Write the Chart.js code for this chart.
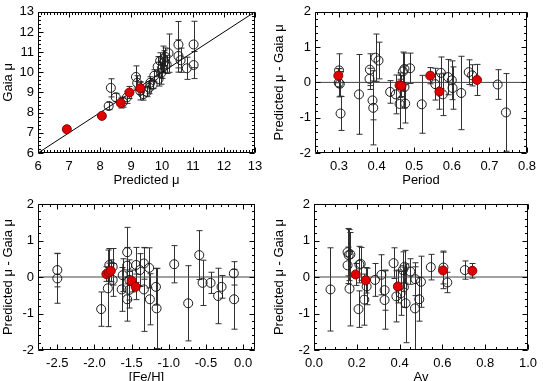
<!DOCTYPE html>
<html><head><meta charset="utf-8">
<script src="https://cdn.jsdelivr.net/npm/chart.js@4"></script>
<style>
html,body{margin:0;padding:0;background:#fff;overflow:hidden;width:543px;height:381px;position:relative}
.p{position:absolute}
</style></head><body>
<div class="p" style="left:0;top:0;width:271px;height:190px"><canvas id="c1"></canvas></div>
<div class="p" style="left:271px;top:0;width:272px;height:190px"><canvas id="c2"></canvas></div>
<div class="p" style="left:0;top:190px;width:271px;height:200px"><canvas id="c3"></canvas></div>
<div class="p" style="left:271px;top:190px;width:272px;height:200px"><canvas id="c4"></canvas></div>
<script>
// ---------- Panel 1: Gaia mu vs Predicted mu ----------
const p1PredOpen = [8.28,8.35,8.51,8.74,8.87,9.16,9.20,9.30,9.40,9.51,9.59,9.62,9.70,9.75,9.86,9.89,9.94,9.97,10.00,10.04,10.07,10.11,10.15,10.21,10.53,10.53,10.60,10.80,11.02,11.02];
const p1GaiaOpen = [8.33,9.23,8.76,8.52,8.76,9.77,9.48,9.08,8.92,9.04,9.24,9.48,9.39,9.83,10.28,9.67,10.57,9.96,10.20,10.65,10.52,10.76,10.39,10.95,11.37,10.81,10.60,10.20,11.38,10.36];
const p1ErrOpen  = [0.18,0.45,0.20,0.25,0.30,0.55,0.35,0.45,0.30,0.25,0.30,0.30,0.20,0.30,0.50,0.35,0.40,0.55,0.50,0.65,0.55,0.45,0.45,0.95,1.15,0.80,0.60,0.55,1.15,0.67];
const p1PredRed = [6.93,8.06,8.67,8.95,9.30];
const p1GaiaRed = [7.18,7.84,8.48,9.00,9.21];
const p1ErrRed  = [0.10,0.12,0.25,0.30,0.30];
const p1Ticks = [6,7,8,9,10,11,12,13];
const p1Line = [6,13];

// ---------- Panel 2: residual vs Period ----------
const p2PerOpen = [0.300,0.299,0.302,0.304,0.353,0.382,0.381,0.389,0.391,0.397,0.405,0.436,0.451,0.461,0.470,0.474,0.474,0.476,0.489,0.520,0.556,0.571,0.576,0.590,0.600,0.602,0.625,0.645,0.654,0.722,0.744];
const p2ResOpen = [0.34,-0.01,-0.04,-0.88,-0.34,0.36,0.10,-0.51,-0.72,0.70,0.62,-0.27,-0.34,-0.61,0.31,0.38,-0.13,-0.60,0.40,-0.62,-0.05,0.27,-0.34,0.15,0.06,-0.16,-0.30,0.29,0.20,-0.06,-0.85];
const p2ErrOpen = [0.47,0.40,0.35,0.48,1.13,0.45,0.30,0.55,1.05,0.67,0.52,0.32,0.55,0.70,0.55,0.45,0.60,0.55,0.43,0.82,0.45,0.45,0.60,0.50,0.55,0.60,1.04,0.35,0.30,0.42,1.10];
const p2PerRed = [0.298,0.461,0.466,0.5425,0.567,0.667];
const p2ResRed = [0.19,-0.08,-0.10,0.19,-0.26,0.07];
const p2ErrRed = [0.20,0.35,0.30,0.23,0.50,0.44];
const p2XTicks = [0.3,0.4,0.5,0.6,0.7,0.8];

// ---------- Panel 3: residual vs [Fe/H] ----------
const p3FehOpen = [-2.50,-2.50,-1.91,-1.82,-1.80,-1.755,-1.755,-1.634,-1.62,-1.56,-1.56,-1.56,-1.53,-1.53,-1.44,-1.389,-1.335,-1.335,-1.264,-1.254,-1.173,-1.164,-0.927,-0.739,-0.59,-0.545,-0.438,-0.336,-0.29,-0.125,-0.121];
const p3ResOpen = [0.19,-0.04,-0.88,-0.31,0.33,0.28,-0.08,-0.34,0.05,0.68,-0.61,0.31,-0.08,-0.35,0.33,0.19,0.37,-0.34,0.25,-0.61,-0.27,-0.86,0.35,-0.72,0.60,-0.16,-0.16,-0.52,-0.27,0.10,-0.61];
const p3ErrOpen = [0.46,0.68,0.47,1.05,0.45,0.50,0.45,0.60,0.45,0.68,0.60,0.50,0.55,0.50,0.48,0.45,0.43,1.15,0.55,0.70,0.50,1.10,0.51,1.03,0.67,0.62,0.29,0.76,0.31,0.32,0.82];
const p3FehRed = [-1.84,-1.81,-1.78,-1.50,-1.446];
const p3ResRed = [0.08,0.13,0.17,-0.11,-0.27];
const p3ErrRed = [0.20,0.25,0.30,0.30,0.35];
const p3XTicks = [-2.5,-2.0,-1.5,-1.0,-0.5,0.0];

// ---------- Panel 4: residual vs Av ----------
const p4AvOpen  = [0.077,0.157,0.162,0.157,0.166,0.170,0.208,0.212,0.218,0.235,0.246,0.285,0.315,0.330,0.330,0.372,0.385,0.405,0.415,0.420,0.423,0.428,0.450,0.472,0.474,0.492,0.500,0.546,0.605,0.623,0.705];
const p4ResOpen = [-0.34,0.68,0.60,0.32,-0.32,0.62,-0.88,0.34,0.36,-0.62,-0.26,-0.08,0.06,-0.36,-0.63,0.38,-0.53,-0.45,0.19,-0.28,0.28,-0.72,0.15,-0.86,-0.06,-0.61,-0.13,0.27,0.26,-0.15,0.19];
const p4ErrOpen = [1.14,0.65,0.70,0.50,1.02,0.60,0.50,0.50,0.45,0.70,0.50,0.45,0.55,0.55,0.80,0.42,0.70,0.60,0.50,0.55,0.45,1.08,0.35,1.14,0.45,0.60,0.70,0.35,0.45,0.28,0.25];
const p4AvRed  = [0.195,0.242,0.392,0.603,0.740];
const p4ResRed = [0.07,-0.09,-0.26,0.18,0.17];
const p4ErrRed = [0.30,0.35,0.45,0.50,0.20];
const p4XTicks = [0.0,0.2,0.4,0.6,0.8,1.0];

const resTicks = [-2,-1,0,1,2];

const FONT = 'Liberation Sans, Arial, Helvetica, sans-serif';

const errPlugin = {
  id: 'errbars',
  beforeDatasetsDraw(chart) {
    const {ctx, chartArea: a, scales: {x, y}} = chart;
    ctx.save();
    ctx.beginPath(); ctx.rect(a.left, a.top, a.right - a.left, a.bottom - a.top); ctx.clip();
    ctx.strokeStyle = '#303030'; ctx.lineWidth = 1;
    chart.data.datasets.forEach(ds => {
      if (!ds.errors) return;
      ds.data.forEach((pt, i) => {
        const e = ds.errors[i];
        const px = Math.round(x.getPixelForValue(pt.x)) + 0.5;
        const y1 = y.getPixelForValue(pt.y + e), y2 = y.getPixelForValue(pt.y - e);
        ctx.beginPath();
        ctx.moveTo(px, y1); ctx.lineTo(px, y2);
        ctx.moveTo(px - 3, y1); ctx.lineTo(px + 3, y1);
        ctx.moveTo(px - 3, y2); ctx.lineTo(px + 3, y2);
        ctx.stroke();
      });
    });
    ctx.restore();
  }
};

const framePlugin = {
  id: 'frame',
  afterDatasetsDraw(chart) {
    const {ctx, chartArea: a, scales: {x, y}} = chart;
    const o = chart.options.plugins.frame;
    ctx.save();
    ctx.strokeStyle = '#000'; ctx.lineWidth = 1;
    ctx.beginPath();
    const L = Math.round(a.left) + 0.5, R = Math.round(a.right) - 0.5, T = Math.round(a.top) + 0.5, B = Math.round(a.bottom) - 0.5;
    ctx.rect(L, T, R - L, B - T);
    const xt = (v, len) => { const px = Math.round(x.getPixelForValue(v)) + 0.5; ctx.moveTo(px, B); ctx.lineTo(px, B - len); ctx.moveTo(px, T); ctx.lineTo(px, T + len); };
    const yt = (v, len) => { const py = Math.round(y.getPixelForValue(v)) + 0.5; ctx.moveTo(L, py); ctx.lineTo(L + len, py); ctx.moveTo(R, py); ctx.lineTo(R - len, py); };
    const minors = (mn, mx, st, f) => { const k0 = Math.ceil(mn / st - 1e-6), k1 = Math.floor(mx / st + 1e-6); for (let k = k0; k <= k1; k++) f(k * st, 2.5); };
    minors(x.min, x.max, o.xMinor, xt);
    minors(y.min, y.max, o.yMinor, yt);
    x.ticks.forEach(t => xt(t.value, 5));
    y.ticks.forEach(t => yt(t.value, 5));
    ctx.stroke();
    ctx.restore();
  }
};

function makeChart(id, c) {
  const datasets = [
    { type: 'scatter', data: c.line, showLine: true, borderColor: c.lineColor, borderWidth: 1, pointRadius: 0, order: 3 },
    { type: 'scatter', data: c.open, errors: c.openErr, pointRadius: 4.5, pointBorderWidth: 1, borderColor: '#1a1a1a', backgroundColor: 'rgba(0,0,0,0)', order: 2 },
    { type: 'scatter', data: c.red, errors: c.redErr, pointRadius: 4.5, pointBorderWidth: 1, borderColor: '#8a0000', backgroundColor: '#e00000', order: 1 }
  ];
  const tickFont = { family: FONT, size: 13 };
  return new Chart(document.getElementById(id), {
    type: 'scatter',
    data: { datasets },
    options: {
      responsive: true, maintainAspectRatio: false, animation: false, events: [],
      layout: { padding: { top: c.padTop, right: c.padRight, left: 0, bottom: 0 } },
      plugins: { legend: { display: false }, tooltip: { enabled: false }, frame: { xMinor: c.xMinor, yMinor: c.yMinor } },
      scales: {
        x: {
          type: 'linear', min: c.xMin, max: c.xMax,
          grid: { display: false, drawTicks: false }, border: { display: false },
          afterBuildTicks: s => { s.ticks = c.xTicks.map(v => ({ value: v })); },
          afterFit: s => { s.height = c.xHeight; },
          ticks: { font: tickFont, color: '#000', padding: 6, maxRotation: 0, autoSkip: false,
                   callback: v => v.toFixed(c.xDec) },
          title: { display: true, text: c.xTitle, font: { family: FONT, size: 13 }, color: '#000', padding: { top: 0, bottom: c.xTitlePad } }
        },
        y: {
          type: 'linear', min: c.yMin, max: c.yMax,
          grid: { display: false, drawTicks: false }, border: { display: false },
          afterBuildTicks: s => { s.ticks = c.yTicks.map(v => ({ value: v })); },
          afterFit: s => { s.width = c.yWidth; },
          ticks: { font: tickFont, color: '#000', padding: 4, autoSkip: false, callback: v => String(v) },
          title: { display: true, text: c.yTitle, font: { family: FONT, size: 13 }, color: '#000', padding: { top: 1, bottom: 0 } }
        }
      }
    },
    plugins: [errPlugin, framePlugin]
  });
}

const pts = (xs, ys) => xs.map((v, i) => ({ x: v, y: ys[i] }));

makeChart('c1', {
  open: pts(p1PredOpen, p1GaiaOpen), openErr: p1ErrOpen,
  red: pts(p1PredRed, p1GaiaRed), redErr: p1ErrRed,
  line: pts(p1Line, p1Line), lineColor: '#000',
  xMin: 6, xMax: 13, yMin: 6, yMax: 13, xTicks: p1Ticks, yTicks: p1Ticks, xDec: 0,
  xMinor: 0.1, yMinor: 0.2,
  xTitle: 'Predicted \u03bc', yTitle: 'Gaia \u03bc',
  padTop: 7, padRight: 16, yWidth: 38, xHeight: 37, xTitlePad: 2
});

makeChart('c2', {
  open: pts(p2PerOpen, p2ResOpen), openErr: p2ErrOpen,
  red: pts(p2PerRed, p2ResRed), redErr: p2ErrRed,
  line: pts([0.236, 0.8], [0, 0]), lineColor: '#444',
  xMin: 0.236, xMax: 0.8, yMin: -2, yMax: 2, xTicks: p2XTicks, yTicks: resTicks, xDec: 1,
  xMinor: 0.02, yMinor: 0.2,
  xTitle: 'Period', yTitle: 'Predicted \u03bc - Gaia \u03bc',
  padTop: 7, padRight: 16, yWidth: 44, xHeight: 37, xTitlePad: 2
});

makeChart('c3', {
  open: pts(p3FehOpen, p3ResOpen), openErr: p3ErrOpen,
  red: pts(p3FehRed, p3ResRed), redErr: p3ErrRed,
  line: pts([-2.76, 0.16], [0, 0]), lineColor: '#444',
  xMin: -2.76, xMax: 0.16, yMin: -2, yMax: 2, xTicks: p3XTicks, yTicks: resTicks, xDec: 1,
  xMinor: 0.1, yMinor: 0.2,
  xTitle: '[Fe/H]', yTitle: 'Predicted \u03bc - Gaia \u03bc',
  padTop: 14, padRight: 16, yWidth: 38, xHeight: 40, xTitlePad: 5
});

makeChart('c4', {
  open: pts(p4AvOpen, p4ResOpen), openErr: p4ErrOpen,
  red: pts(p4AvRed, p4ResRed), redErr: p4ErrRed,
  line: pts([0, 1], [0, 0]), lineColor: '#444',
  xMin: 0, xMax: 1, yMin: -2, yMax: 2, xTicks: p4XTicks, yTicks: resTicks, xDec: 1,
  xMinor: 0.05, yMinor: 0.2,
  xTitle: 'Av', yTitle: 'Predicted \u03bc - Gaia \u03bc',
  padTop: 14, padRight: 12, yWidth: 43, xHeight: 40, xTitlePad: 5
});
</script>
</body></html>
